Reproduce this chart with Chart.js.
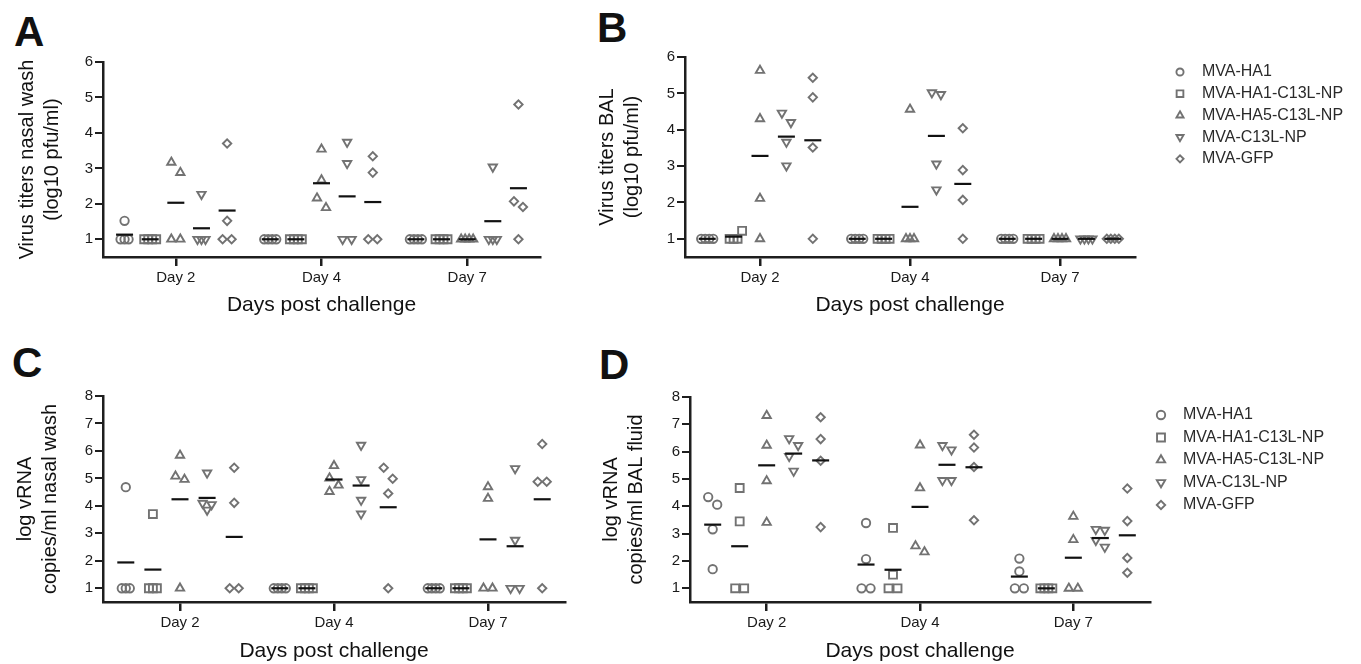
<!DOCTYPE html>
<html>
<head>
<meta charset="utf-8">
<script src="https://cdn.jsdelivr.net/npm/chart.js@4.4.0/dist/chart.umd.min.js"></script>
<style>
  body { margin: 0; background: #fff; width: 1361px; height: 664px; overflow: hidden; position: relative; }
  canvas { position: absolute; }
  .letter { position: absolute; font: bold 42px/42px "Liberation Sans", Arial, sans-serif; color: #111; }
</style>
</head>
<body>
<div class="letter" style="left:14px;top:11px">A</div>
<div class="letter" style="left:597px;top:7px">B</div>
<div class="letter" style="left:12px;top:342px">C</div>
<div class="letter" style="left:599px;top:344px">D</div>
<canvas id="cA" width="565" height="330" style="left:0;top:0"></canvas>
<canvas id="cB" width="781" height="330" style="left:580px;top:0"></canvas>
<canvas id="cC" width="580" height="334" style="left:0;top:330px"></canvas>
<canvas id="cD" width="781" height="334" style="left:580px;top:330px"></canvas>
<script>
const dayLabels = ["Day 2", "Day 4", "Day 7"];
const groupNames = ["MVA-HA1", "MVA-HA1-C13L-NP", "MVA-HA5-C13L-NP", "MVA-C13L-NP", "MVA-GFP"];
const ticksAB = [1, 2, 3, 4, 5, 6];
const ticksCD = [1, 2, 3, 4, 5, 6, 7, 8];

// A - virus titers nasal wash, each group: [day 2, day 4, day 7]
const aHA1 = [[1.52, 1, 1, 1], [1, 1, 1, 1], [1, 1, 1, 1]];
const aHA1C = [[1, 1, 1, 1], [1, 1, 1, 1], [1, 1, 1, 1]];
const aHA5 = [[3.17, 2.88, 1, 1], [3.54, 2.67, 2.16, 1.89], [1, 1, 1, 1]];
const aC13L = [[2.27, 1, 1, 1], [3.74, 3.14, 1, 1], [3.04, 1, 1, 1]];
const aGFP = [[3.70, 1.52, 1, 1], [3.34, 2.88, 1, 1], [4.80, 2.07, 1.91, 1]];
const aMeans = [[1.13, 1, 2.03, 1.31, 1.81], [1, 1, 2.58, 2.21, 2.05], [1, 1, 1, 1.51, 2.44]];

// B - virus titers BAL
const bHA1 = [[1, 1, 1, 1], [1, 1, 1, 1], [1, 1, 1, 1]];
const bHA1C = [[1.22, 1, 1, 1], [1, 1, 1, 1], [1, 1, 1, 1]];
const bHA5 = [[5.63, 4.30, 2.11, 1], [4.56, 1, 1, 1], [1, 1, 1, 1]];
const bC13L = [[4.46, 4.20, 3.66, 3.01], [5.02, 4.97, 3.06, 2.35], [1, 1, 1, 1]];
const bGFP = [[5.43, 4.89, 3.51, 1], [4.04, 2.89, 2.07, 1], [1, 1, 1, 1]];
const bMeans = [[1, 1.06, 3.28, 3.81, 3.71], [1, 1, 1.88, 3.83, 2.51], [1, 1, 1, 1, 1]];

// C - log vRNA nasal wash
const cHA1 = [[4.68, 1, 1, 1], [1, 1, 1, 1], [1, 1, 1, 1]];
const cHA1C = [[3.70, 1, 1, 1], [1, 1, 1, 1], [1, 1, 1, 1]];
const cHA5 = [[5.84, 5.08, 4.96, 1], [5.46, 5.01, 4.75, 4.52], [4.69, 4.27, 1, 1]];
const cC13L = [[5.20, 4.10, 4.05, 3.85], [6.21, 4.96, 4.21, 3.71], [5.36, 2.75, 1, 1]];
const cGFP = [[5.39, 4.11, 1, 1], [5.39, 4.99, 4.45, 1], [6.25, 4.88, 4.88, 1]];
const cMeans = [[1.94, 1.68, 4.24, 4.29, 2.87], [1, 1, 4.96, 4.74, 3.95], [1, 1, 2.78, 2.53, 4.24]];

// D - log vRNA BAL fluid
const dHA1 = [[4.34, 4.06, 3.16, 1.70], [3.39, 2.07, 1, 1], [2.09, 1.62, 1, 1]];
const dHA1C = [[4.67, 3.45, 1, 1], [3.21, 1.50, 1, 1], [1, 1, 1, 1]];
const dHA5 = [[7.32, 6.23, 4.93, 3.41], [6.24, 4.67, 2.55, 2.33], [3.63, 2.78, 1, 1]];
const dC13L = [[6.48, 6.23, 5.83, 5.29], [6.23, 6.07, 4.95, 4.95], [3.16, 3.13, 2.76, 2.51]];
const dGFP = [[7.26, 6.46, 5.67, 3.24], [6.62, 6.15, 5.44, 3.49], [4.65, 3.46, 2.11, 1.57]];
const dMeans = [[3.33, 2.54, 5.50, 5.93, 5.68], [1.87, 1.68, 3.98, 5.52, 5.43], [1.43, 1, 2.12, 2.84, 2.94]];

const GRAY = "#727272";
const INK = "#1e1e1e";
const FONT = '"Liberation Sans", Arial, Helvetica, sans-serif';
const GROUP_GAP = 0.176; // x units between groups inside a day

const markers = [
  { pointStyle: "circle", radius: 4.2, rotation: 0 },
  { pointStyle: "rect", radius: 5.6, rotation: 0 },
  { pointStyle: "triangle", radius: 4.8, rotation: 0 },
  { pointStyle: "triangle", radius: 4.8, rotation: 180 },
  { pointStyle: "rectRot", radius: 4.2, rotation: 0 },
];

const panels = [
  { id: "cA", groups: [aHA1, aHA1C, aHA5, aC13L, aGFP], means: aMeans, ticks: ticksAB, ymax: 6,
    ytitle: ["Virus titers nasal wash", "(log10 pfu/ml)"], box: { l: 103, t: 62, r: 540, b: 257 },
    yPad: 14.5, xPad: 12.4, legend: null },
  { id: "cB", groups: [bHA1, bHA1C, bHA5, bC13L, bGFP], means: bMeans, ticks: ticksAB, ymax: 6,
    ytitle: ["Virus titers BAL", "(log10 pfu/ml)"], box: { l: 105, t: 57, r: 555, b: 257 },
    yPad: 14.5, xPad: 12.4, legend: { x: 600, y: 72, dy: 21.7, gap: 22, scale: 0.85 } },
  { id: "cC", groups: [cHA1, cHA1C, cHA5, cC13L, cGFP], means: cMeans, ticks: ticksCD, ymax: 8,
    ytitle: ["log vRNA", "copies/ml nasal wash"], box: { l: 103, t: 66, r: 565, b: 272 },
    yPad: 12.5, xPad: 0, legend: null },
  { id: "cD", groups: [dHA1, dHA1C, dHA5, dC13L, dGFP], means: dMeans, ticks: ticksCD, ymax: 8,
    ytitle: ["log vRNA", "copies/ml BAL fluid"], box: { l: 110, t: 67, r: 570, b: 272 },
    yPad: 19, xPad: 0, legend: { x: 581, y: 85, dy: 22.5, gap: 22, scale: 1.0 } },
];

// spread points with equal / close values side by side, like a column scatter
function spread(vals, ppy) {
  const order = vals.map((v, i) => i).sort((a, b) => vals[b] - vals[a]);
  const rows = [];
  order.forEach((i) => {
    const last = rows[rows.length - 1];
    if (last && (last.v - vals[i]) * ppy < 3) last.members.push(i);
    else rows.push({ v: vals[i], members: [i] });
  });
  const off = new Array(vals.length).fill(0);
  let chain = 0;
  rows.forEach((row, r) => {
    const c = row.members.length;
    if (c > 1) {
      const sp = c === 2 ? 9 : 4;
      row.members.forEach((m, k) => (off[m] = (k - (c - 1) / 2) * sp));
      chain = 0;
      return;
    }
    const prev = rows[r - 1];
    const next = rows[r + 1];
    const prevSingle = prev && prev.members.length === 1 && (prev.v - row.v) * ppy < 11;
    const nextSingle = next && next.members.length === 1 && (row.v - next.v) * ppy < 11;
    if (prevSingle) chain++;
    else chain = nextSingle ? 1 : 0;
    if (chain) {
      off[row.members[0]] = chain % 2 ? -4.5 : 4.5;
    } else {
      const big = [prev, next].find((o) => o && o.members.length >= 3 && Math.abs(o.v - row.v) * ppy < 11);
      if (big) off[row.members[0]] = (big.members.length - 1) * 2 + 4.5;
    }
  });
  return off;
}

const sideLegend = {
  id: "sideLegend",
  afterDraw(chart, args, opts) {
    if (!opts || !opts.show) return;
    const ctx = chart.ctx;
    ctx.save();
    groupNames.forEach((name, i) => {
      const y = opts.y + i * opts.dy;
      const m = markers[i];
      ctx.fillStyle = "rgba(0,0,0,0)";
      ctx.strokeStyle = GRAY;
      ctx.lineWidth = 1.9;
      Chart.helpers.drawPoint(ctx, { pointStyle: m.pointStyle, radius: m.radius * opts.scale, rotation: m.rotation, borderWidth: 1.9 }, opts.x, y);
      ctx.fillStyle = "#2a2a2a";
      ctx.font = "16px " + FONT;
      ctx.textBaseline = "middle";
      ctx.textAlign = "left";
      ctx.fillText(name, opts.x + opts.gap, y);
    });
    ctx.restore();
  },
};

panels.forEach((p) => {
  const canvas = document.getElementById(p.id);
  const W = canvas.width;
  const H = canvas.height;
  const ppx = (p.box.r - p.box.l) / 3;
  const ppy = (p.box.b - p.box.t) / (p.ymax - 0.5);

  const meanPts = [];
  p.means.forEach((row, d) => {
    row.forEach((m, g) => meanPts.push({ x: d + 0.5 + (g - 2) * GROUP_GAP, y: m }));
  });

  const datasets = [
    {
      label: "mean",
      data: meanPts,
      pointStyle: "line",
      pointRadius: 8.5,
      pointBorderWidth: 2.2,
      pointBorderColor: "#111",
      borderColor: "#111",
      showLine: false,
      clip: false,
    },
  ];

  p.groups.forEach((g, gi) => {
    const pts = [];
    g.forEach((vals, d) => {
      const offs = spread(vals, ppy);
      vals.forEach((v, k) => {
        pts.push({ x: d + 0.5 + (gi - 2) * GROUP_GAP + offs[k] / ppx, y: v });
      });
    });
    datasets.push({
      label: groupNames[gi],
      data: pts,
      pointStyle: markers[gi].pointStyle,
      pointRadius: markers[gi].radius,
      pointRotation: markers[gi].rotation,
      pointBorderWidth: 1.9,
      pointBorderColor: GRAY,
      pointBackgroundColor: "rgba(0,0,0,0)",
      showLine: false,
      clip: false,
    });
  });

  new Chart(canvas.getContext("2d"), {
    type: "scatter",
    data: { datasets: datasets },
    plugins: [sideLegend],
    options: {
      responsive: false,
      animation: false,
      events: [],
      layout: { padding: { left: 0, top: p.box.t, right: W - p.box.r, bottom: 0 } },
      plugins: {
        legend: { display: false },
        tooltip: { enabled: false },
        sideLegend: p.legend ? Object.assign({ show: true }, p.legend) : { show: false },
      },
      scales: {
        x: {
          type: "linear",
          min: 0,
          max: 3,
          afterBuildTicks: (scale) => {
            scale.ticks = [0.5, 1.5, 2.5].map((v) => ({ value: v }));
          },
          afterFit: (scale) => {
            scale.height = H - p.box.b;
          },
          ticks: {
            callback: (v, i) => dayLabels[i],
            color: "#1a1a1a",
            font: { family: FONT, size: 15 },
            padding: 3,
            maxRotation: 0,
          },
          grid: { drawOnChartArea: false, drawTicks: true, tickLength: 9, lineWidth: 2.5, color: INK },
          border: { display: true, color: INK, width: 2.5 },
          title: {
            display: true,
            text: "Days post challenge",
            color: "#111",
            font: { family: FONT, size: 21, lineHeight: 1.2 },
            padding: { top: 0, bottom: p.xPad },
          },
        },
        y: {
          type: "linear",
          min: 0.5,
          max: p.ymax,
          afterBuildTicks: (scale) => {
            scale.ticks = p.ticks.map((v) => ({ value: v }));
          },
          afterFit: (scale) => {
            scale.width = p.box.l;
          },
          ticks: {
            color: "#1a1a1a",
            font: { family: FONT, size: 15 },
            padding: 2,
          },
          grid: { drawOnChartArea: false, drawTicks: true, tickLength: 8, lineWidth: 2, color: INK },
          border: { display: true, color: INK, width: 2.5 },
          title: {
            display: true,
            text: p.ytitle,
            color: "#111",
            font: { family: FONT, size: 20, lineHeight: 1.25 },
            padding: { top: p.yPad, bottom: 0 },
          },
        },
      },
    },
  });
});
</script>
</body>
</html>
